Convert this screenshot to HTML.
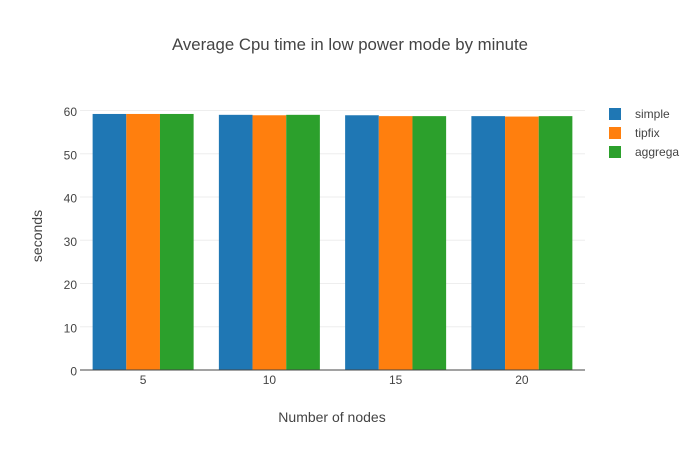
<!DOCTYPE html>
<html><head><meta charset="utf-8"><style>
body{margin:0;background:#fff;font-family:"Liberation Sans",sans-serif;}
svg text{font-family:"Liberation Sans",sans-serif;fill:#444;}
</style></head><body>
<svg id="c" width="700" height="450" xmlns="http://www.w3.org/2000/svg">
<text x="350" y="50" text-anchor="middle" font-size="16.8">Average Cpu time in low power mode by minute</text>
<text x="332" y="422" text-anchor="middle" font-size="14">Number of nodes</text>
<text transform="translate(42,236) rotate(-90)" text-anchor="middle" font-size="14">seconds</text>
<g id="grid"></g><g id="bars"></g><g id="axes"></g><g id="legend"></g>
</svg>
<script>
const categories = ["5","10","15","20"];
const seriesNames = ["simple","tipfix","aggrega"];
const simpleValues = [59.2,59.0,58.9,58.7];
const tipfixValues = [59.2,58.9,58.7,58.6];
const aggregaValues = [59.2,59.0,58.7,58.7];
const yTicks = [0,10,20,30,40,50,60];
const colors = ["#1f77b4","#ff7f0e","#2ca02c"];
const NS="http://www.w3.org/2000/svg";
const X0=80,X1=585,Y0=370,Y1=110.5,YMAX=60;
const band=(X1-X0)/categories.length;
function yScale(v){return Y0-(v/YMAX)*(Y0-Y1);}
function xCenter(i){return X0+band*(i+0.5);}
function mk(tag,attrs,parent){const e=document.createElementNS(NS,tag);for(const k in attrs)e.setAttribute(k,attrs[k]);parent.appendChild(e);return e;}
const grid=document.getElementById('grid'),bars=document.getElementById('bars'),axes=document.getElementById('axes'),legend=document.getElementById('legend');
yTicks.forEach(t=>{
  const y=yScale(t);
  if(t>0){const l=mk('line',{x1:X0,x2:X1,y1:y,y2:y,stroke:'#eee','stroke-width':1},grid);
  
  }
  const tx=mk('text',{x:X0-3,y:y+5.5,'text-anchor':'end','font-size':12},axes);tx.textContent=t;
  
  
});
const all=[simpleValues,tipfixValues,aggregaValues];
const groupW=band*0.8,bw=groupW/3;
categories.forEach((c,i)=>{
  all.forEach((vals,s)=>{
    const x=xCenter(i)-groupW/2+s*bw,y=yScale(vals[i]);
    const r=mk('rect',{x:x,y:y,width:bw,height:Y0-y,fill:colors[s]},bars);
    
    
  });
  const tx=mk('text',{x:xCenter(i),y:Y0+14,'text-anchor':'middle','font-size':12},axes);tx.textContent=c;
  
  
});
const ax=mk('line',{x1:X0,x2:X1,y1:Y0,y2:Y0,stroke:'#444','stroke-width':1},axes);


seriesNames.forEach((n,s)=>{
  const y=114+s*19;
  const g=mk('g',{},legend);
  
  
  mk('rect',{x:609,y:y-6,width:12,height:12,fill:colors[s]},g);
  const t=mk('text',{x:635,y:y+4,'font-size':12},g);t.textContent=n;
});
</script>
</body></html>
